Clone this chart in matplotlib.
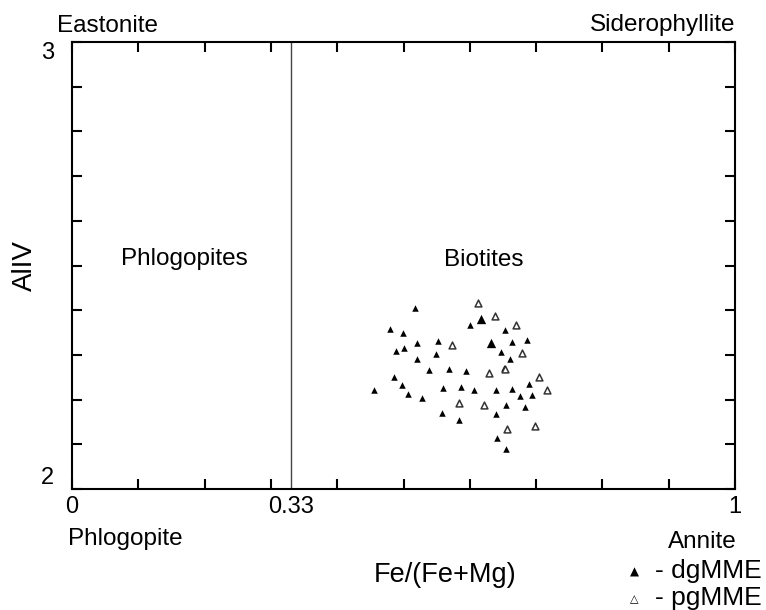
import numpy as np
import matplotlib.pyplot as plt

plt.rcParams['font.family'] = ['Liberation Sans', 'DejaVu Sans']

# dgMME (filled triangles)
dg_x = [0.517, 0.479, 0.499, 0.600, 0.653, 0.687, 0.664, 0.520, 0.552,
        0.489, 0.501, 0.549, 0.520, 0.647, 0.661, 0.538, 0.569, 0.595,
        0.652, 0.486, 0.497, 0.456, 0.507, 0.528, 0.559, 0.587, 0.606,
        0.639, 0.663, 0.690, 0.676, 0.694, 0.654, 0.683, 0.640, 0.558,
        0.583, 0.641, 0.654]
dg_y = [2.406, 2.357, 2.350, 2.368, 2.356, 2.333, 2.328, 2.327, 2.332,
        2.309, 2.316, 2.302, 2.290, 2.307, 2.290, 2.266, 2.269, 2.265,
        2.270, 2.251, 2.233, 2.221, 2.213, 2.204, 2.225, 2.229, 2.221,
        2.221, 2.224, 2.235, 2.209, 2.210, 2.189, 2.183, 2.167, 2.171,
        2.154, 2.115, 2.090]
# two bigger filled symbols
dg_big_x = [0.617, 0.632]
dg_big_y = [2.380, 2.326]

# pgMME (open triangles)
pg_x = [0.612, 0.638, 0.669, 0.573, 0.679, 0.629, 0.653, 0.704, 0.716,
        0.583, 0.622, 0.656, 0.699]
pg_y = [2.417, 2.387, 2.368, 2.322, 2.305, 2.259, 2.268, 2.250, 2.221,
        2.192, 2.187, 2.134, 2.142]

W, H = 766, 610
fig = plt.figure(figsize=(W / 100, H / 100), dpi=100)
ax = fig.add_axes([72 / W, 1 - 489 / H, 663 / W, 447 / H])

ax.scatter(dg_x, dg_y, marker='^', s=22, color='black', linewidths=0)
ax.scatter(dg_big_x, dg_big_y, marker='^', s=45, color='black', linewidths=0)
ax.scatter(pg_x, pg_y, marker='^', s=24, facecolor='white',
           edgecolor='#333333', linewidths=1.1)

ax.axvline(0.33, color='#444444', lw=1.0)

ax.set_xlim(0, 1)
ax.set_ylim(2, 3)
xt = np.round(np.arange(0, 1.01, 0.1), 1)
ax.set_xticks(xt)
ax.set_xticklabels(['0'] + [''] * 9 + ['1'])
yt = np.round(np.arange(2, 3.01, 0.1), 1)
ax.set_yticks(yt)
ax.set_yticklabels(['2'] + [''] * 9 + ['3'])
ax.tick_params(direction='in', length=7, width=1.5, top=True, right=True,
               labelsize=17)
ax.tick_params(axis='x', pad=5)
ax.tick_params(axis='y', pad=13)
ylabs = ax.get_yticklabels()
ylabs[0].set_va('bottom')
ylabs[-1].set_va('top')
for s in ax.spines.values():
    s.set_linewidth(1.5)
ax.text(0.33, -0.0155, '0.33', transform=ax.get_xaxis_transform(),
        ha='center', va='top', fontsize=17)

ax.text(0.1695, 2.5, 'Phlogopites', ha='center', va='baseline', fontsize=17.5)
ax.text(0.621, 2.5, 'Biotites', ha='center', va='baseline', fontsize=17.5)

ax.set_ylabel('AlIV', fontsize=20)
ax.yaxis.set_label_coords(-0.052, 0.5)

def ftext(x, y, s, **kw):
    fig.text(x / W, 1 - y / H, s, **kw)

ftext(57, 32, 'Eastonite', ha='left', va='baseline', fontsize=17.5)
ftext(735, 31, 'Siderophyllite', ha='right', va='baseline', fontsize=17.5)
ftext(68, 545, 'Phlogopite', ha='left', va='baseline', fontsize=17.5)
ftext(737, 548, 'Annite', ha='right', va='baseline', fontsize=17.5)
ftext(445, 582, 'Fe/(Fe+Mg)', ha='center', va='baseline', fontsize=19.5)
ftext(634, 572, '▲', ha='center', va='center', fontsize=8.5, family='DejaVu Sans')
ftext(634, 599, '△', ha='center', va='center', fontsize=8, family='DejaVu Sans')
ftext(762, 578, '- dgMME', ha='right', va='baseline', fontsize=19)
ftext(762, 605, '- pgMME', ha='right', va='baseline', fontsize=19)

fig.savefig('out.png', dpi=100)
